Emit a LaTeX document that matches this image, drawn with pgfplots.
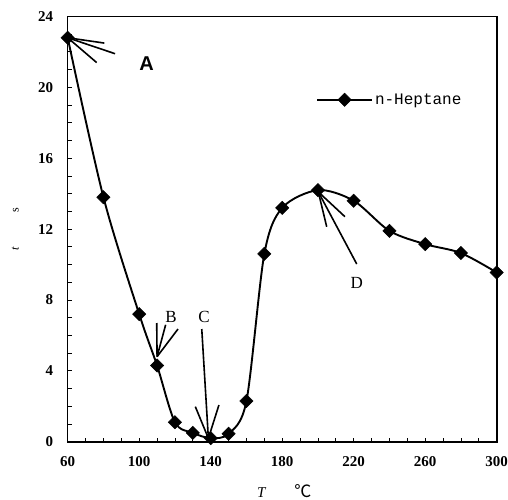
\documentclass[border=0pt]{standalone}
\usepackage{fontspec}
\setmainfont{Liberation Serif}
\newfontfamily\sansb{Liberation Sans}
\newfontfamily\mono{Liberation Mono}
\newfontfamily\cjk{Noto Sans CJK SC}
\usepackage{pgfplots}
\pgfplotsset{compat=1.18}

\begin{document}
\begin{tikzpicture}
\useasboundingbox (-67.7pt,-57.3pt) rectangle (440.3pt,441.7pt);
\begin{axis}[
  scale only axis,
  width=429pt, height=425.2pt,
  xmin=60, xmax=300, ymin=0, ymax=24,
  xtick={60,100,...,300}, ytick={0,4,...,24},
  minor x tick num=3, minor y tick num=3,
  tick align=inside, xtick pos=bottom, ytick pos=left,
  major tick length=4pt, minor tick length=4pt,
  axis line style={line width=1.6pt},
  every tick/.style={black, line width=0.9pt},
  tick label style={font=\bfseries\fontsize{15}{15}\selectfont, /pgf/number format/assume math mode=true},
  yticklabel style={xshift=-11pt},
  xticklabel style={yshift=-11pt},
  xlabel={\textit{T}\hspace{28pt}{\cjk\fontsize{17}{17}\selectfont ℃}},
  ylabel={\textit{t}\hspace{34pt}s},
  every axis x label/.style={at={(axis description cs:0.5,0)}, anchor=center, yshift=-49pt, xshift=2pt, font=\fontsize{15}{15}\selectfont},
  every axis y label/.style={at={(axis description cs:0,0.5)}, anchor=center, rotate=90, yshift=52.5pt, font=\fontsize{12}{12}\selectfont},
  legend style={at={(axis cs:197.2,19.3)}, anchor=west, draw=none, fill=none, font=\mono\fontsize{16}{16}\selectfont},
  legend image code/.code={
    \draw[mark repeat=2,mark phase=2,#1] plot coordinates {(0pt,0pt) (27.5pt,0pt) (55pt,0pt)};
  },
  clip=false,
]
\addplot[black, line width=1.9pt, smooth, tension=0.5, mark=square*, mark size=4.7pt, mark options={rotate=45, solid, line width=0.5pt}]
coordinates {
  (60,22.8) (80,13.8) (100,7.2) (110,4.3) (120,1.1) (130,0.5) (140,0.2)
  (150,0.45) (160,2.3) (170,10.6) (180,13.2) (200,14.2) (220,13.6)
  (240,11.9) (260,11.15) (280,10.65) (300,9.55)
};
\addlegendentry{n-Heptane}

% annotation arrows
\draw[line width=1.6pt] (axis cs:60,22.8) -- (axis cs:80.5,22.5);
\draw[line width=1.6pt] (axis cs:60,22.8) -- (axis cs:86.5,21.9);
\draw[line width=1.6pt] (axis cs:60,22.8) -- (axis cs:76.2,21.4);
\draw[line width=1.6pt] (axis cs:110,4.8) -- (axis cs:109.8,6.7);
\draw[line width=1.6pt] (axis cs:110,4.8) -- (axis cs:114.8,6.6);
\draw[line width=1.6pt] (axis cs:110,4.8) -- (axis cs:121.7,6.36);
\draw[line width=1.6pt] (axis cs:138.7,0.19) -- (axis cs:135,6.36);
\draw[line width=1.6pt] (axis cs:138.7,0.19) -- (axis cs:131.4,1.98);
\draw[line width=1.6pt] (axis cs:138.7,0.19) -- (axis cs:144.6,2.07);
\draw[line width=1.6pt] (axis cs:200.2,14.1) -- (axis cs:221.7,10.03);
\draw[line width=1.6pt] (axis cs:200.2,14.1) -- (axis cs:204.9,12.13);
\draw[line width=1.6pt] (axis cs:200.2,14.1) -- (axis cs:215.1,12.7);

\node[font=\sansb\bfseries\fontsize{20}{20}\selectfont] at (axis cs:104.2,21.35) {A};
\node[font=\fontsize{17}{17}\selectfont] at (axis cs:117.8,7.05) {B};
\node[font=\fontsize{17}{17}\selectfont] at (axis cs:136.3,7.05) {C};
\node[font=\fontsize{17}{17}\selectfont] at (axis cs:221.7,8.94) {D};
\end{axis}
\end{tikzpicture}
\end{document}
